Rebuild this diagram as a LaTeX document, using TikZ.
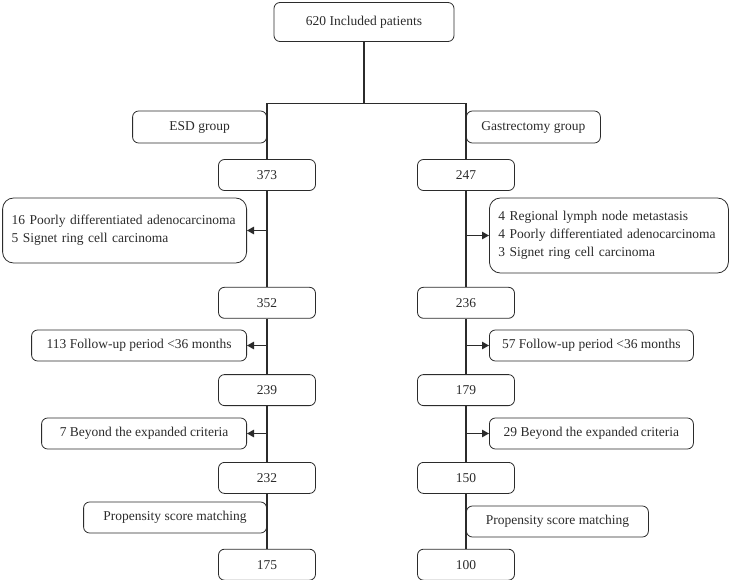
\documentclass[tikz,border=0pt]{standalone}
\usepackage{fontspec}
\setmainfont{Liberation Serif}
\usepackage{xcolor}
\usepackage{tikz}
\usetikzlibrary{arrows.meta, shapes, positioning}

\definecolor{ink}{HTML}{2B2B2B}

\begin{document}
\begin{tikzpicture}[
  x=1pt, y=1pt,
  font=\fontsize{13.5}{18}\selectfont,
  text=ink,
  box/.style={draw=ink, line width=0.8pt, rectangle, rounded corners=6pt, align=center, minimum height=31pt, inner sep=4pt},
  numbox/.style={box, minimum width=97pt},
  exbox/.style={box, align=left, rounded corners=11pt, inner sep=9pt},
  line/.style={draw=ink, line width=1.2pt},
  arrow/.style={line, -{Triangle[length=7pt, width=7.5pt]}}
]
\useasboundingbox (0,0) rectangle (731,-580);

% Noeuds
\node[box, minimum width=180pt, minimum height=39pt] (top) at (364,-22) {620 Included patients};

\node[box, minimum width=134pt, minimum height=32pt, anchor=east] (esd) at (267,-127) {ESD group};
\node[box, minimum width=134pt, minimum height=32pt, anchor=west] (gas) at (466,-127) {Gastrectomy group};

% colonne ESD
\node[numbox] (n373) at (267,-175) {373};
\node[numbox, below=96pt of n373] (n352) {352};
\node[numbox, below=55.5pt of n352] (n239) {239};
\node[numbox, below=56pt of n239] (n232) {232};
\node[numbox, below=55pt of n232] (n175) {175};

% colonne gastrectomie
\node[numbox] (n247) at (466,-175) {247};
\node[numbox, below=96pt of n247] (n236) {236};
\node[numbox, below=55.5pt of n236] (n179) {179};
\node[numbox, below=56pt of n179] (n150) {150};
\node[numbox, below=55pt of n150] (n100) {100};

% exclusions
\node[exbox, text width=226pt, minimum height=65pt, anchor=east] (exESDa) at (247,-230.5)
  {16 Poorly differentiated adenocarcinoma\\5 Signet ring cell carcinoma};
\node[exbox, text width=221pt, minimum height=75pt, anchor=west] (exGASa) at (489,-235.5)
  {4 Regional lymph node metastasis\\4 Poorly differentiated adenocarcinoma\\3 Signet ring cell carcinoma};

\node[box, minimum width=215pt, anchor=east] (exESDb) at (247,-345.5) {113 Follow-up period <36 months};
\node[box, minimum width=204pt, anchor=west] (exGASb) at (489,-345.5) {57 Follow-up period <36 months};

\node[box, minimum width=205pt, anchor=east] (exESDc) at (247,-433.5) {7 Beyond the expanded criteria};
\node[box, minimum width=204pt, anchor=west] (exGASc) at (489,-433.5) {29 Beyond the expanded criteria};

\node[box, minimum width=183pt, anchor=east] (psmESD) at (267,-517.5) {Propensity score matching};
\node[box, minimum width=182pt, anchor=west] (psmGAS) at (466,-521.5) {Propensity score matching};

% Flèches
\draw[line] (top.south) -- ++(0,-62) coordinate (split);
\draw[line] (n373.north) |- (split) -| (n247.north);

\draw[line] (n373) -- (n352) -- (n239) -- (n232) -- (n175);
\draw[line] (n247) -- (n236) -- (n179) -- (n150) -- (n100);

\draw[arrow] (n373.south |- exESDa.east) -- (exESDa.east);
\draw[arrow] (n247.south |- exGASa.west) -- (exGASa.west);
\draw[arrow] (n352.south |- exESDb.east) -- (exESDb.east);
\draw[arrow] (n236.south |- exGASb.west) -- (exGASb.west);
\draw[arrow] (n239.south |- exESDc.east) -- (exESDc.east);
\draw[arrow] (n179.south |- exGASc.west) -- (exGASc.west);

\end{tikzpicture}
\end{document}
